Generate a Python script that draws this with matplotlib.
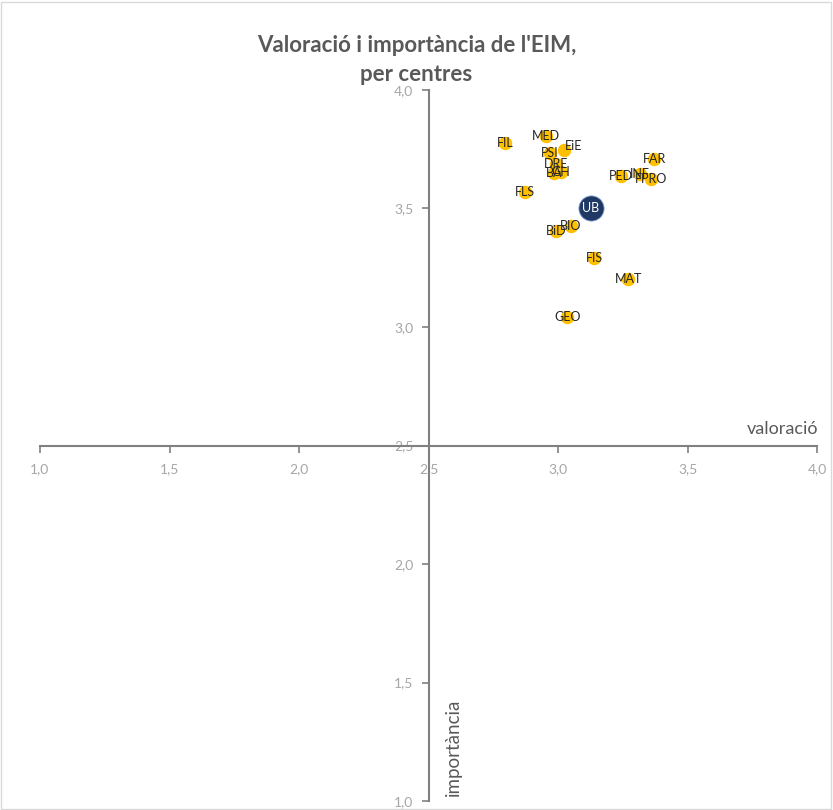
import matplotlib.pyplot as plt
from matplotlib.ticker import FuncFormatter

plt.rcParams['font.family'] = ['Lato', 'DejaVu Sans']

# centres: valoració (x) i importància (y)
centres = ["FIL", "MED", "EiE", "PSI", "DRE", "BA", "GH", "FLS", "QUI", "BIO", "BiD",
           "PED", "INF", "FAR", "FPRO", "FIS", "MAT", "GEO"]
valoracio = [2.795, 2.954, 3.023, 2.969, 2.992, 2.985, 3.01, 2.873, 3.12, 3.050, 2.992,
             3.243, 3.317, 3.371, 3.359, 3.139, 3.270, 3.035]
importancia = [3.776, 3.806, 3.745, 3.734, 3.688, 3.648, 3.652, 3.570, 3.505, 3.426, 3.405,
               3.637, 3.646, 3.709, 3.624, 3.291, 3.203, 3.042]

ub_x = 3.127
ub_y = 3.502

fig = plt.figure(figsize=(8.33, 8.10), dpi=100)
ax = fig.add_axes([0.048, 0.011, 0.933, 0.878])

ax.scatter(valoracio, importancia, s=75, color="#FFC000", zorder=3)
for nom, x, y in zip(centres, valoracio, importancia):
    dx = 0.035 if nom == "EiE" else 0
    dy = 0.02 if nom == "EiE" else 0
    ax.text(x + dx, y + dy, nom, ha="center", va="center", fontsize=9, color="#262626", zorder=4)

ax.scatter([ub_x], [ub_y], s=330, color="#1F3864", edgecolor="#8EA9DB", linewidth=0.6, zorder=5)
ax.text(ub_x, ub_y, "UB", ha="center", va="center", fontsize=9, color="white", zorder=6)

ax.set_xlim(1, 4)
ax.set_ylim(1, 4)
ax.set_xticks([1.0, 1.5, 2.0, 2.5, 3.0, 3.5, 4.0])
ax.set_yticks([1.0, 1.5, 2.0, 2.5, 3.0, 3.5, 4.0])
fmt = FuncFormatter(lambda v, p: f"{v:.1f}".replace(".", ","))
ax.xaxis.set_major_formatter(fmt)
ax.yaxis.set_major_formatter(fmt)

for s in ["top", "right"]:
    ax.spines[s].set_visible(False)
ax.spines["left"].set_position(("data", 2.5))
ax.spines["bottom"].set_position(("data", 2.5))
for s in ["left", "bottom"]:
    ax.spines[s].set_color("#808080")
    ax.spines[s].set_linewidth(1.5)
ax.tick_params(axis="both", colors="#808080", width=1.2, length=5, direction="out",
               labelcolor="#A6A6A6", labelsize=10)
ax.tick_params(axis="x", pad=8)
ax.tick_params(axis="y", pad=6)

ax.text(4.005, 2.535, "valoració", ha="right", va="bottom", fontsize=13, color="#595959")
ax.text(2.595, 1.02, "importància", ha="center", va="bottom", rotation=90, fontsize=13.5, color="#595959")

fig.text(0.5, 0.926, "Valoració i importància de l'EIM,\nper centres", ha="center", va="center",
         fontsize=16, fontweight="bold", color="#595959", linespacing=1.45)

fig.patches.append(plt.Rectangle((0.001, 0.001), 0.997, 0.997, transform=fig.transFigure,
                                 fill=False, edgecolor="#D9D9D9", linewidth=1))

fig.savefig("out.png", dpi=100)
